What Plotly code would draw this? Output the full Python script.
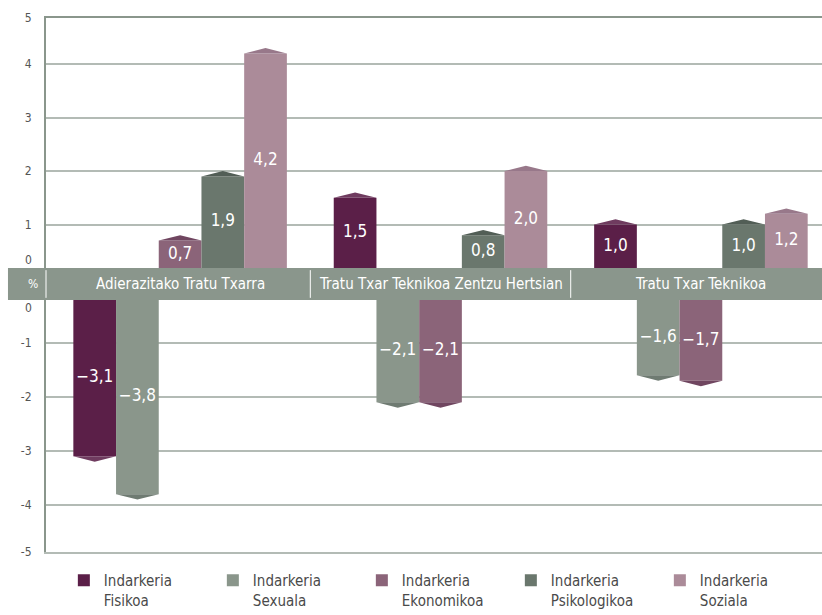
import plotly.graph_objects as go

# ---------------- data ----------------
categories = ["Adierazitako Tratu Txarra", "Tratu Txar Teknikoa Zentzu Hertsian", "Tratu Txar Teknikoa"]
series_names = ["Indarkeria<br>Fisikoa", "Indarkeria<br>Sexuala", "Indarkeria<br>Ekonomikoa",
                "Indarkeria<br>Psikologikoa", "Indarkeria<br>Soziala"]
fisikoa = [-3.1, 1.5, 1.0]
sexuala = [-3.8, -2.1, -1.6]
ekonomikoa = [0.7, -2.1, -1.7]
psikologikoa = [1.9, 0.8, 1.0]
soziala = [4.2, 2.0, 1.2]
top_ticks = [1, 2, 3, 4]
bottom_ticks = [-1, -2, -3, -4]

series_values = [fisikoa, sexuala, ekonomikoa, psikologikoa, soziala]

# ---------------- style ----------------
bar_colors = ["#5b1f48", "#8a968b", "#8b6479", "#6a776d", "#ab8b99"]
cap_colors = ["#6f3b5f", "#6f7b72", "#704660", "#525e56", "#98788a"]
band_color = "#8a968c"
grid_color = "#b3bbb5"
axis_color = "#8a968c"
FONT = "DejaVu Sans Condensed, sans-serif"

BARGAP = 0.18
N = len(series_values)
BW = (1 - BARGAP) / N
CAP_H = 0.1

TOP_RANGE = [0.187, 4.862]
BOT_RANGE = [-4.872, -0.204]
X_RANGE = [-0.515, 2.465]

TOP_DOMAIN = [0.5318, 1.0]
BOT_DOMAIN = [0.0, 0.4719]

xpos = list(range(len(categories)))


def fmt(v):
    s = f"{abs(v):.1f}".replace(".", ",")
    return ("\u2212" + s) if v < 0 else s


fig = go.Figure()

for i, (name, vals) in enumerate(zip(series_names, series_values)):
    pos = [v if v > 0 else None for v in vals]
    neg = [v if v < 0 else None for v in vals]
    fig.add_trace(go.Bar(x=xpos, y=pos, name=name, marker=dict(color=bar_colors[i], line=dict(width=0)),
                         xaxis="x", yaxis="y", legendgroup=name, hoverinfo="skip"))
    fig.add_trace(go.Bar(x=xpos, y=neg, name=name, marker=dict(color=bar_colors[i], line=dict(width=0)),
                         xaxis="x2", yaxis="y2", legendgroup=name, showlegend=False, hoverinfo="skip"))

# caps and value labels
for i, vals in enumerate(series_values):
    off = -(1 - BARGAP) / 2 + (i + 0.5) * BW
    for sign, xa, ya, edge in ((1, "x", "y", TOP_RANGE[0]), (-1, "x2", "y2", BOT_RANGE[1])):
        cx, cy, lx, ly, lt = [], [], [], [], []
        for g, v in zip(xpos, vals):
            if v * sign <= 0:
                continue
            c = g + off
            cx += [c - BW / 2, c, c + BW / 2, None]
            cy += [v, v + sign * CAP_H, v, None]
            lx.append(c)
            ly.append((v + edge) / 2)
            lt.append(fmt(v))
        if cx:
            fig.add_trace(go.Scatter(x=cx, y=cy, mode="lines", fill="toself", fillcolor=cap_colors[i],
                                     line=dict(width=0), xaxis=xa, yaxis=ya, showlegend=False,
                                     hoverinfo="skip"))
            fig.add_trace(go.Scatter(x=lx, y=ly, mode="text", text=lt,
                                     textfont=dict(family=FONT, size=17, color="white"),
                                     xaxis=xa, yaxis=ya, showlegend=False, hoverinfo="skip"))

# band between the two panels
shapes = [dict(type="rect", xref="paper", yref="paper", x0=-0.049, x1=1.0,
               y0=BOT_DOMAIN[1], y1=TOP_DOMAIN[0], fillcolor=band_color, line=dict(width=0), layer="above")]
sep_y0 = BOT_DOMAIN[1] + 0.004
sep_y1 = TOP_DOMAIN[0] - 0.004
shapes.append(dict(type="line", xref="paper", yref="paper", x0=0, x1=0, y0=sep_y0, y1=sep_y1,
                   line=dict(color="white", width=1), layer="above"))
for g in xpos[:-1]:
    shapes.append(dict(type="line", xref="x", yref="paper", x0=g + 0.5, x1=g + 0.5, y0=sep_y0, y1=sep_y1,
                       line=dict(color="white", width=1), layer="above"))

band_mid = (BOT_DOMAIN[1] + TOP_DOMAIN[0]) / 2
annotations = [dict(text=c, x=g, xref="x", y=band_mid, yref="paper", showarrow=False,
                    font=dict(family=FONT, size=15, color="white"), xanchor="center", yanchor="middle")
               for g, c in zip(xpos, categories)]
annotations.append(dict(text="%", x=-0.017, xref="paper", y=band_mid, yref="paper", showarrow=False,
                        font=dict(family=FONT, size=12, color="white"), xanchor="center", yanchor="middle"))
annotations.append(dict(text="0", x=-0.016, xref="paper", y=0.33, yref="y", showarrow=False,
                        font=dict(family=FONT, size=12, color="#555555"), xanchor="right", yanchor="middle"))
annotations.append(dict(text="0", x=-0.016, xref="paper", y=-0.35, yref="y2", showarrow=False,
                        font=dict(family=FONT, size=12, color="#555555"), xanchor="right", yanchor="middle"))

tickfont = dict(family=FONT, size=12, color="#555555")

fig.update_layout(
    width=822, height=615,
    margin=dict(l=46, r=0, t=18, b=63),
    paper_bgcolor="white", plot_bgcolor="white",
    barmode="group", bargap=BARGAP, bargroupgap=0,
    showlegend=True,
    legend=dict(orientation="h", x=0.023, xref="paper", y=0.083, yref="container",
                xanchor="left", yanchor="top",
                entrywidth=104, entrywidthmode="pixels", valign="top",
                font=dict(family=FONT, size=15, color="#4a4a4a"), itemwidth=30,
                bgcolor="rgba(0,0,0,0)", tracegroupgap=0),
    xaxis=dict(domain=[0, 1], range=X_RANGE, anchor="y", side="top", showticklabels=False,
               showgrid=False, zeroline=False, showline=True, linecolor=axis_color, linewidth=2,
               ticks="", fixedrange=True),
    xaxis2=dict(domain=[0, 1], range=X_RANGE, anchor="y2", matches="x", side="bottom",
                showticklabels=False, showgrid=False, zeroline=False, showline=True,
                linecolor=grid_color, linewidth=2, ticks=""),
    yaxis=dict(domain=TOP_DOMAIN, range=TOP_RANGE, anchor="x",
               tickvals=top_ticks + [TOP_RANGE[1]], ticktext=[str(t) for t in top_ticks] + ["5"],
               showgrid=True, gridcolor=grid_color, gridwidth=1.5, zeroline=False,
               showline=True, linecolor=axis_color, linewidth=2, ticks="",
               ticklabelstandoff=10, tickfont=tickfont),
    yaxis2=dict(domain=BOT_DOMAIN, range=BOT_RANGE, anchor="x2",
                tickvals=bottom_ticks + [BOT_RANGE[0]], ticktext=[str(t) for t in bottom_ticks] + ["-5"],
                showgrid=True, gridcolor=grid_color, gridwidth=1.5, zeroline=False,
                showline=True, linecolor=axis_color, linewidth=2, ticks="",
                ticklabelstandoff=10, tickfont=tickfont),
    shapes=shapes,
    annotations=annotations,
)

fig.write_html("out.html", config={"displayModeBar": False},
               post_script="document.body.style.margin='0';")
